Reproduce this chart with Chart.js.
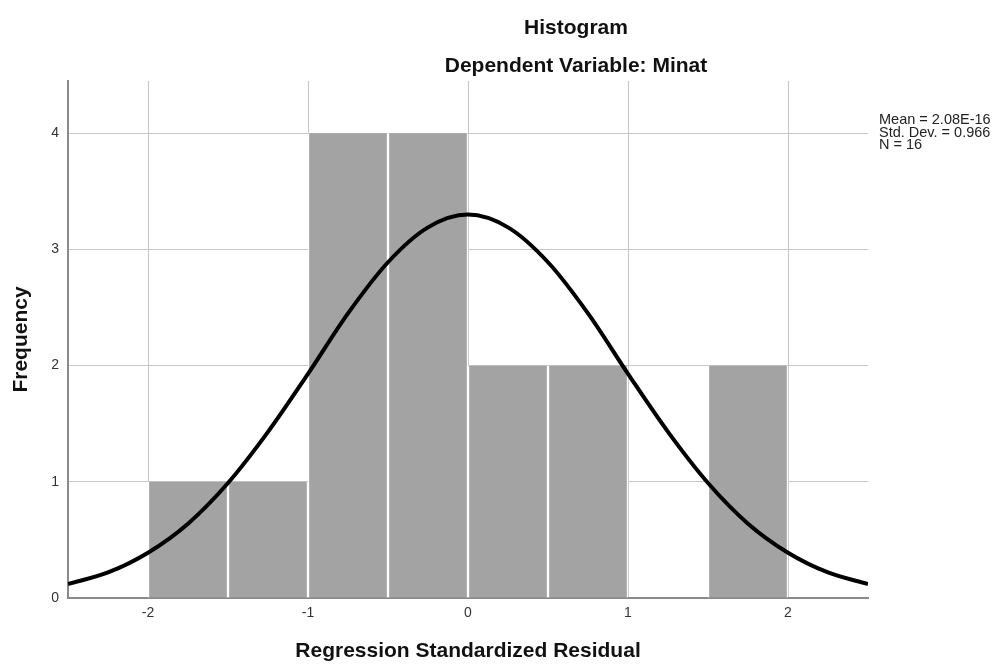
<!DOCTYPE html>
<html>
<head>
<meta charset="utf-8">
<title>Histogram</title>
<script src="https://cdn.jsdelivr.net/npm/chart.js@4.4.1/dist/chart.umd.min.js"></script>
<style>
  html, body { margin: 0; padding: 0; background: #fff; }
  #wrap { width: 1003px; height: 666px; }
</style>
</head>
<body>
<div id="wrap"><canvas id="histChart" width="1003" height="666"></canvas></div>
<script>
// ---- data ----
const binCenters = [-1.75, -1.25, -0.75, -0.25, 0.25, 0.75, 1.25, 1.75];
const frequencies = [1, 1, 4, 4, 2, 2, 0, 2];

// normal curve, read at every 0.25 along x
const curveX = [-2.5, -2.25, -2, -1.75, -1.5, -1.25, -1, -0.75, -0.5, -0.25, 0,
                0.25, 0.5, 0.75, 1, 1.25, 1.5, 1.75, 2, 2.25, 2.5];
const curveY = [0.12, 0.22, 0.39, 0.64, 0.99, 1.43, 1.93, 2.45, 2.89, 3.19, 3.30,
                3.19, 2.89, 2.45, 1.93, 1.43, 0.99, 0.64, 0.39, 0.22, 0.12];

const xTicks = [-2, -1, 0, 1, 2];
const yTicks = [0, 1, 2, 3, 4];

const titleLines = ["Histogram", "Dependent Variable: Minat"];
const statsLines = ["Mean = 2.08E-16", "Std. Dev. = 0.966", "N = 16"];

const FONT = "'Liberation Sans', Arial, Helvetica, sans-serif";

// titles + stats box, placed the way SPSS does it
const textPlugin = {
  id: "spssText",
  afterDraw(chart) {
    const ctx = chart.ctx;
    ctx.save();
    ctx.fillStyle = "#111";
    ctx.textAlign = "center";
    ctx.textBaseline = "middle";
    ctx.font = "bold 21px " + FONT;
    ctx.fillText(titleLines[0], 576, 28);
    ctx.fillText(titleLines[1], 576, 66);

    ctx.textAlign = "left";
    ctx.font = "14.5px " + FONT;
    ctx.fillStyle = "#222";
    statsLines.forEach((line, i) => {
      ctx.fillText(line, chart.chartArea.right + 11, 120 + i * 12.5);
    });
    ctx.restore();
  }
};

const ctx = document.getElementById("histChart").getContext("2d");

new Chart(ctx, {
  data: {
    datasets: [
      {
        type: "line",
        data: curveX.map((x, i) => ({ x, y: curveY[i] })),
        borderColor: "#000",
        borderWidth: 4,
        pointRadius: 0,
        cubicInterpolationMode: "monotone",
        fill: false,
        order: 0
      },
      {
        type: "bar",
        data: binCenters.map((x, i) => ({ x, y: frequencies[i] })),
        backgroundColor: "#a3a3a3",
        borderColor: "#ffffff",
        borderWidth: { left: 1.5, right: 1.5, top: 0, bottom: 0 },
        barPercentage: 1,
        categoryPercentage: 1,
        order: 1
      }
    ]
  },
  options: {
    responsive: false,
    animation: false,
    layout: { padding: { top: 81, right: 135, left: 0, bottom: 0 } },
    plugins: {
      legend: { display: false },
      tooltip: { enabled: false },
      title: { display: false }
    },
    scales: {
      x: {
        type: "linear",
        min: -2.5,
        max: 2.5,
        offset: false,
        afterBuildTicks: s => { s.ticks = xTicks.map(v => ({ value: v })); },
        afterFit: s => { s.height = 68; },
        ticks: {
          padding: 7,
          color: "#333",
          font: { family: FONT, size: 14 }
        },
        grid: { color: "#c6c6c6", lineWidth: 1, drawTicks: false, offset: false },
        border: { color: "#8a8a8a", width: 2 },
        title: {
          display: true,
          text: "Regression Standardized Residual",
          color: "#111",
          font: { family: FONT, size: 21, weight: "bold" },
          padding: { top: 0, bottom: 2 }
        }
      },
      y: {
        type: "linear",
        min: 0,
        max: 4.45,
        afterBuildTicks: s => { s.ticks = yTicks.map(v => ({ value: v })); },
        afterFit: s => { s.width = 68; },
        ticks: {
          padding: 9,
          color: "#333",
          font: { family: FONT, size: 14 }
        },
        grid: { color: "#c6c6c6", lineWidth: 1, drawTicks: false },
        border: { color: "#8a8a8a", width: 2 },
        title: {
          display: true,
          text: "Frequency",
          color: "#111",
          font: { family: FONT, size: 21, weight: "bold" },
          padding: { top: 9, bottom: 0 }
        }
      }
    }
  },
  plugins: [textPlugin]
});
</script>
</body>
</html>
